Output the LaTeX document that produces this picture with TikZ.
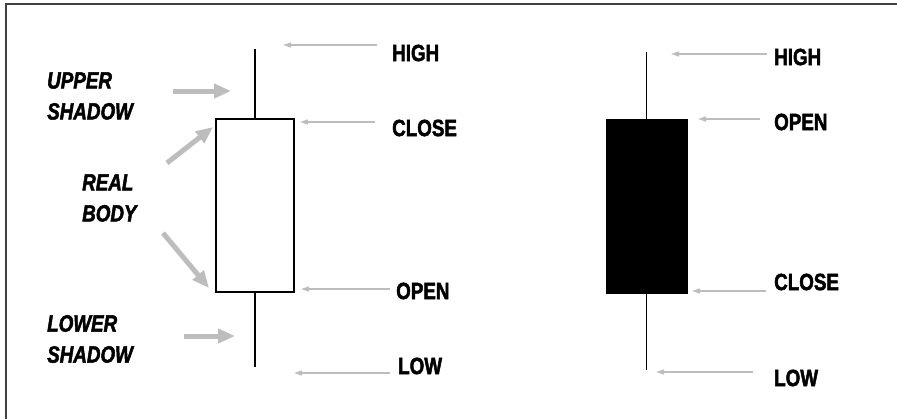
\documentclass[tikz,border=0pt]{standalone}
\usepackage{fontspec}
\setmainfont{Liberation Sans}
\newfontfamily\candlefont{Liberation Sans}[FakeStretch=0.8, FakeBold=2]
\usetikzlibrary{arrows.meta}
\definecolor{pointergray}{HTML}{BDBDBD}
\definecolor{framegray}{HTML}{404040}

\tikzset{
	price/.style={font=\candlefont\bfseries\fontsize{23.5}{27}\selectfont, anchor=west, inner sep=0pt},
	part/.style={font=\candlefont\bfseries\itshape\fontsize{23.5}{31}\selectfont, align=left, anchor=west, inner sep=0pt},
	pointer/.style={draw=pointergray, line width=1.5pt, -{Triangle[length=8pt,width=5pt]}},
	fatpointer/.style={draw=pointergray, line width=5pt, -{Triangle[length=17pt,width=14pt]}},
}

\begin{document}
\begin{tikzpicture}[x=1pt, y=-1pt]
\useasboundingbox (0,0) rectangle (897,418);
\draw[framegray, line width=1.5pt] (6,420) -- (6,4) -- (899,4);

% white candle
\node[draw, line width=2pt, minimum width=78pt, minimum height=173pt, inner sep=0pt] (wbody) at (255,205.5) {};
\coordinate (whigh) at (255,49);
\coordinate (wlow) at (255,367);
\draw[line width=2pt] (whigh) -- (wbody.north)
	(wbody.south) -- (wlow);

% black candle
\node[draw, fill=black, line width=1pt, minimum width=81pt, minimum height=174pt, inner sep=0pt] (bbody) at (646.5,206) {};
\coordinate (bhigh) at (646.5,52);
\coordinate (blow) at (646.5,370);
\draw[line width=1pt] (bhigh) -- (bbody.north)
	(bbody.south) -- (blow);

% labels on the left
\node[part] (upper) at (47,96) {UPPER\\SHADOW};
\node[part] (real) at (82,198) {REAL\\BODY};
\node[part] (lower) at (47,339) {LOWER\\SHADOW};

% labels of the white candle
\node[price] (whightxt) at (392,53) {HIGH};
\node[price] (wclosetxt) at (392,128) {CLOSE};
\node[price] (wopentxt) at (396,291) {OPEN};
\node[price] (wlowtxt) at (398,366) {LOW};

% labels of the black candle
\node[price] (bhightxt) at (774,57) {HIGH};
\node[price] (bopentxt) at (774,122) {OPEN};
\node[price] (bclosetxt) at (774,282) {CLOSE};
\node[price] (blowtxt) at (774,378) {LOW};

% pointers
\coordinate (a1) at (377,45);  \coordinate (a2) at (283,45);
\coordinate (b1) at (375,122); \coordinate (b2) at (300,122);
\coordinate (c1) at (390,289); \coordinate (c2) at (301,289);
\coordinate (d1) at (390,373); \coordinate (d2) at (294,373);
\coordinate (e1) at (767,54);  \coordinate (e2) at (671,54);
\coordinate (f1) at (760,119); \coordinate (f2) at (698,119);
\coordinate (g1) at (766,291); \coordinate (g2) at (692,291);
\coordinate (h1) at (753,372); \coordinate (h2) at (656,372);
\path[every edge/.style={pointer}] (a1) edge (a2) (b1) edge (b2) (c1) edge (c2) (d1) edge (d2)
	(e1) edge (e2) (f1) edge (f2) (g1) edge (g2) (h1) edge (h2);

\coordinate (p1) at (173,91);  \coordinate (p2) at (231,91);
\coordinate (q1) at (167,163); \coordinate (q2) at (213,127);
\coordinate (r1) at (163,233); \coordinate (r2) at (209,288);
\coordinate (s1) at (184,336); \coordinate (s2) at (235,336);
\path[every edge/.style={fatpointer}] (p1) edge (p2) (q1) edge (q2) (r1) edge (r2) (s1) edge (s2);
\end{tikzpicture}
\end{document}
